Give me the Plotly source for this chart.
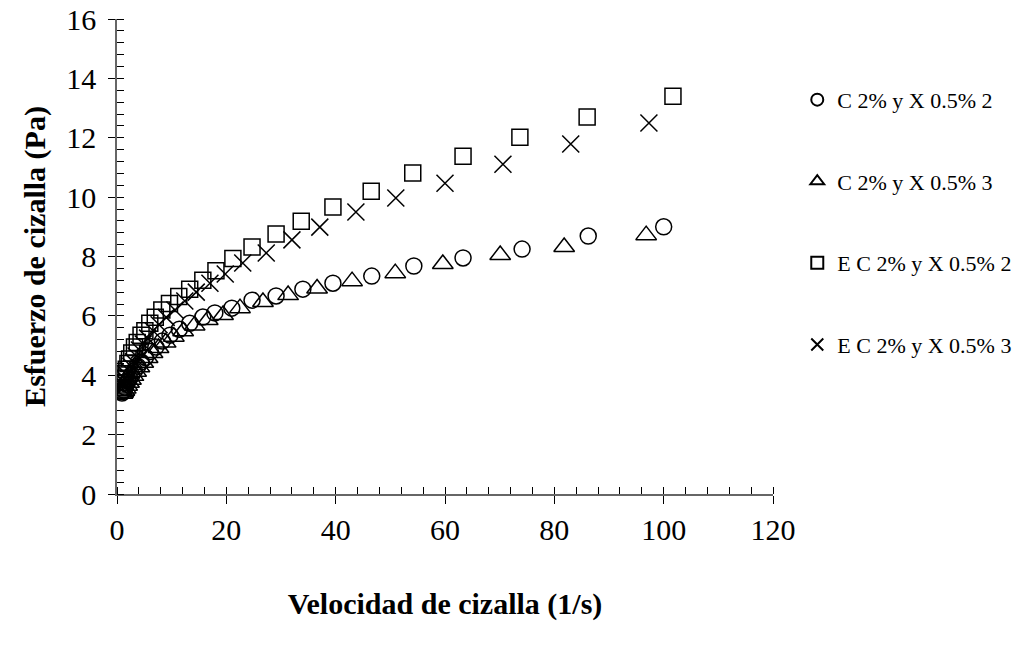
import plotly.graph_objects as go

# --- data ---
x_c2 = [0.9, 1.06, 1.24, 1.45, 1.7, 2.0, 2.3, 2.7, 3.2, 3.8, 4.4, 5.2, 6.1, 7.1, 8.3, 9.7,
        11.4, 13.3, 15.7, 17.9, 21.0, 24.7, 29.1, 34.0, 39.5, 46.6, 54.3, 63.3, 74.1, 86.2, 100.0]
y_c2 = [3.40, 3.45, 3.50, 3.60, 3.70, 3.80, 3.90, 4.00, 4.15, 4.30, 4.45, 4.60, 4.80, 4.95, 5.15, 5.35,
        5.55, 5.75, 5.96, 6.10, 6.26, 6.53, 6.67, 6.90, 7.10, 7.34, 7.68, 7.95, 8.25, 8.69, 9.00]

x_c3 = [1.0, 1.15, 1.35, 1.6, 1.85, 2.2, 2.55, 3.0, 3.5, 4.1, 4.8, 5.6, 6.5, 7.6, 8.9, 10.4,
        12.1, 14.2, 16.6, 19.4, 22.5, 26.7, 31.3, 36.6, 43.0, 50.9, 59.6, 70.1, 81.8, 96.8]
y_c3 = [3.38, 3.42, 3.48, 3.55, 3.65, 3.75, 3.85, 3.98, 4.12, 4.27, 4.42, 4.58, 4.75, 4.92, 5.10, 5.30,
        5.48, 5.68, 5.86, 6.03, 6.26, 6.47, 6.70, 6.92, 7.17, 7.44, 7.75, 8.05, 8.32, 8.72]

x_ec2 = [0.9, 1.06, 1.24, 1.45, 1.7, 2.0, 2.3, 2.7, 3.2, 3.7, 4.4, 5.1, 6.0, 7.0, 8.2, 9.6,
         11.3, 13.3, 15.7, 18.1, 21.2, 24.7, 29.1, 33.7, 39.5, 46.5, 54.1, 63.3, 73.7, 86.0, 101.7]
y_ec2 = [3.60, 3.75, 3.90, 4.05, 4.20, 4.40, 4.55, 4.75, 4.95, 5.10, 5.35, 5.50, 5.75, 5.95, 6.20, 6.42,
         6.65, 6.90, 7.20, 7.52, 7.93, 8.32, 8.76, 9.19, 9.67, 10.20, 10.81, 11.38, 12.02, 12.70, 13.40]

x_ec3 = [1.0, 1.15, 1.35, 1.6, 1.85, 2.2, 2.55, 3.0, 3.5, 4.1, 4.8, 5.6, 6.6, 7.7, 9.0, 10.6,
         12.4, 14.5, 17.0, 19.8, 23.0, 27.3, 32.0, 37.1, 43.7, 51.0, 60.0, 70.6, 83.0, 97.3]
y_ec3 = [3.55, 3.65, 3.75, 3.85, 4.00, 4.15, 4.30, 4.45, 4.65, 4.85, 5.05, 5.25, 5.50, 5.70, 5.95, 6.20,
         6.50, 6.80, 7.10, 7.41, 7.78, 8.12, 8.56, 8.99, 9.50, 9.97, 10.47, 11.11, 11.79, 12.50]

names = ["C 2% y X 0.5% 2", "C 2% y X 0.5% 3", "E C 2% y X 0.5% 2", "E C 2% y X 0.5% 3"]
symbols = ["circle-open", "triangle-up-open", "square-open", "x-thin-open"]
sizes = [16, 18, 16, 17]

series = [(x_c2, y_c2), (x_c3, y_c3), (x_ec2, y_ec2), (x_ec3, y_ec3)]

FONT = "Liberation Serif, Times New Roman, serif"

fig = go.Figure()
for i, ((xs, ys), nm, sym, sz) in enumerate(zip(series, names, symbols, sizes)):
    fig.add_trace(go.Scatter(
        x=xs, y=ys, mode="markers", name=nm, legendgroup=f"g{i}",
        marker=dict(symbol=sym, size=sz, color="black",
                    line=dict(color="black", width=1.5)),
    ))

axis_common = dict(
    showgrid=False, zeroline=False, showline=True, linecolor="#666666", linewidth=1.5,
    tickcolor="black", tickwidth=1,
    tickfont=dict(family=FONT, size=30, color="black"),
)

fig.update_layout(
    width=1015, height=648,
    margin=dict(l=117, r=242, t=19, b=154, autoexpand=False),
    paper_bgcolor="white", plot_bgcolor="white",
    font=dict(family=FONT, color="black"),
    showlegend=True,
    legend=dict(
        x=1.037, xanchor="left", y=0.874, yanchor="top",
        font=dict(family=FONT, size=22, color="black"),
        tracegroupgap=50, itemsizing="constant",
        bgcolor="rgba(0,0,0,0)",
    ),
    xaxis=dict(
        range=[0, 120], tick0=0, dtick=20, ticks="outside", ticklen=8,
        minor=dict(ticks="inside", dtick=4, ticklen=7, tickcolor="black", tickwidth=1),
        title=dict(text="<b>Velocidad de cizalla (1/s)</b>",
                   font=dict(family=FONT, size=30, color="black"), standoff=48),
        **axis_common,
    ),
    yaxis=dict(
        range=[0, 16], tick0=0, dtick=2, ticks="outside", ticklen=7,
        ticklabelstandoff=6,
        minor=dict(ticks="inside", dtick=0.4, ticklen=7, tickcolor="black", tickwidth=1),
        title=dict(text="<b>Esfuerzo de cizalla (Pa)</b>",
                   font=dict(family=FONT, size=30, color="black"), standoff=12),
        **axis_common,
    ),
)

fig.write_html("out.html")
